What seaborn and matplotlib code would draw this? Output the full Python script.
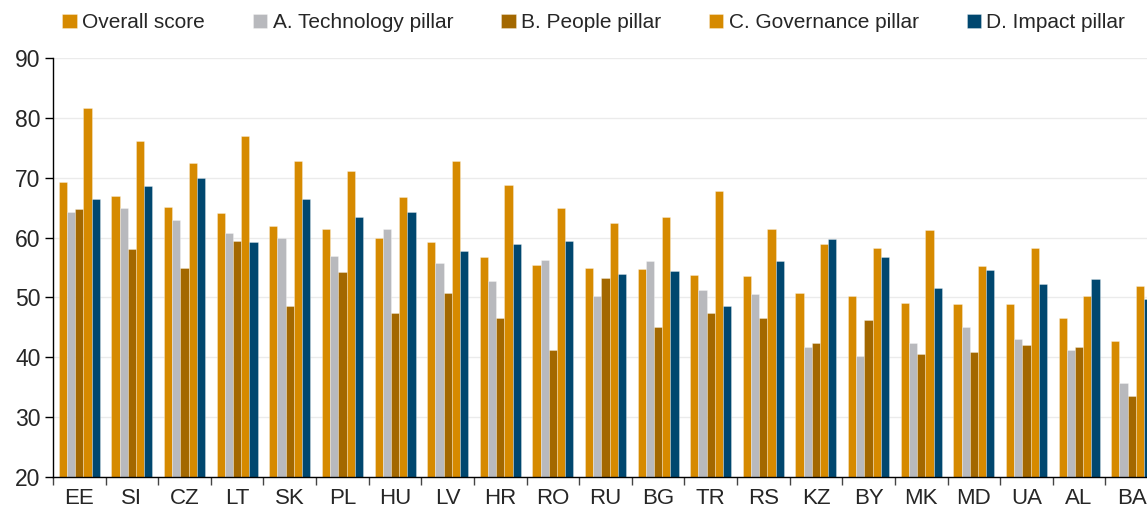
import pandas as pd
import numpy as np
import matplotlib.pyplot as plt
import seaborn as sns
from matplotlib.ticker import FixedLocator

countries = ["EE", "SI", "CZ", "LT", "SK", "PL", "HU", "LV", "HR", "RO", "RU",
             "BG", "TR", "RS", "KZ", "BY", "MK", "MD", "UA", "AL", "BA"]

overall = [69.3, 66.9, 65.1, 64.1, 61.9, 61.4, 59.9, 59.3, 56.7, 55.5, 55.0,
           54.8, 53.7, 53.6, 50.7, 50.3, 49.0, 48.9, 48.9, 46.5, 42.7]
technology = [64.3, 64.9, 63.0, 60.7, 60.0, 57.0, 61.4, 55.8, 52.7, 56.2, 50.2,
              56.1, 51.3, 50.5, 41.7, 40.2, 42.4, 45.0, 43.0, 41.3, 35.7]
people = [64.7, 58.1, 54.9, 59.5, 48.6, 54.2, 47.4, 50.8, 46.5, 41.3, 53.3,
          45.0, 47.4, 46.5, 42.4, 46.3, 40.6, 40.9, 42.0, 41.7, 33.6]
governance = [81.6, 76.1, 72.5, 77.0, 72.8, 71.1, 66.7, 72.8, 68.8, 65.0, 62.4,
              63.5, 67.8, 61.5, 58.9, 58.2, 61.2, 55.2, 58.3, 50.2, 51.9]
impact = [66.5, 68.6, 70.0, 59.3, 66.4, 63.5, 64.3, 57.8, 59.0, 59.4, 53.9,
          54.4, 48.5, 56.1, 59.7, 56.7, 51.6, 54.6, 52.3, 53.1, 49.7]

series_names = ["Overall score", "A. Technology pillar", "B. People pillar",
                "C. Governance pillar", "D. Impact pillar"]
colors = ["#D68A00", "#B8B9BD", "#A36800", "#D68A00", "#00476F"]

frames = []
for name, vals in zip(series_names, [overall, technology, people, governance, impact]):
    frames.append(pd.DataFrame({"country": countries, "series": name, "value": vals}))
df = pd.concat(frames, ignore_index=True)

sns.set_style("white")
plt.rcParams["font.family"] = ["Liberation Sans", "DejaVu Sans"]

fig = plt.figure(figsize=(11.47, 5.11), dpi=100)
ax = fig.add_axes([53 / 1147, 34 / 511, 1105 / 1147, 419 / 511])

sns.barplot(data=df, x="country", y="value", hue="series", palette=colors,
            saturation=1, width=0.78, edgecolor=(1, 1, 1, 0.35), linewidth=0.6,
            ax=ax, legend=True)

ax.set_ylim(20, 90)
ax.set_xlim(-0.5, len(countries) - 0.5)
ax.set_yticks(range(20, 91, 10))
ax.yaxis.grid(True, color="#EBEBEB", linewidth=1)
ax.set_axisbelow(True)
ax.set_xlabel("")
ax.set_ylabel("")

for s in ["top", "right"]:
    ax.spines[s].set_visible(False)
for s in ["left", "bottom"]:
    ax.spines[s].set_color("black")
    ax.spines[s].set_linewidth(1)

ax.tick_params(axis="y", labelsize=16.5, length=6, width=1, color="black",
               left=True, pad=3)
ax.tick_params(axis="x", which="major", labelsize=16, length=0, pad=8)
ax.xaxis.set_minor_locator(FixedLocator(np.arange(-0.5, len(countries), 1)))
ax.tick_params(axis="x", which="minor", length=6, width=1, color="#444444", bottom=True)

handles, labels = ax.get_legend_handles_labels()
ax.get_legend().remove()
fig.legend(handles, labels, loc="upper left", bbox_to_anchor=(54 / 1147, 0.99),
           ncol=5, frameon=False, fontsize=15, handlelength=0.7, handleheight=0.7,
           handletextpad=0.25, columnspacing=2.3, borderaxespad=0)

fig.savefig("out.png", dpi=100)
